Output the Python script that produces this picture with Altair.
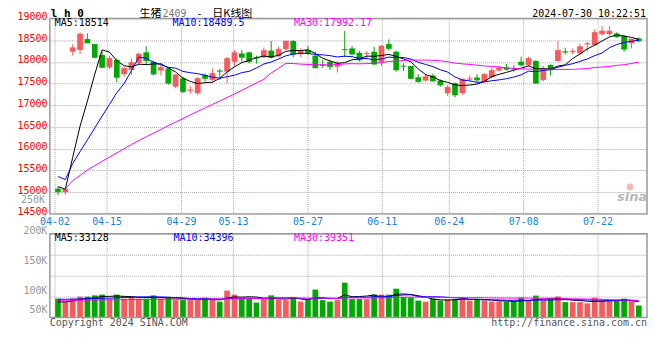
import altair as alt
import pandas as pd

# ---------------- data ----------------
DATES = [
    "04-02", "04-03", "04-08", "04-09", "04-10", "04-11", "04-12", "04-15", "04-16", "04-17",
    "04-18", "04-19", "04-22", "04-23", "04-24", "04-25", "04-26", "04-29", "04-30",
    "05-06", "05-07", "05-08", "05-09", "05-10", "05-13", "05-14", "05-15", "05-16", "05-17",
    "05-20", "05-21", "05-22", "05-23", "05-24", "05-27", "05-28", "05-29", "05-30", "05-31",
    "06-03", "06-04", "06-05", "06-06", "06-07", "06-11", "06-12", "06-13", "06-14", "06-17",
    "06-18", "06-19", "06-20", "06-21", "06-24", "06-25", "06-26", "06-27", "06-28",
    "07-01", "07-02", "07-03", "07-04", "07-05", "07-08", "07-09", "07-10", "07-11", "07-12",
    "07-15", "07-16", "07-17", "07-18", "07-19", "07-22", "07-23", "07-24", "07-25", "07-26",
    "07-29", "07-30",
]
OPEN = [15080, 15000, 18235, 18275, 18525, 18410, 18160, 17875, 18045, 17720,
        17815, 17980, 18220, 18005, 17800, 17850, 17430, 17620, 17340, 17280,
        17700, 17585, 17800, 17775, 18005, 18195, 18220, 18105, 18105, 18260,
        18135, 18295, 18480, 18180, 18275, 18145, 17935, 18005, 17890, 18295,
        18310, 18210, 18180, 18235, 18000, 18410, 18235, 17910, 17905, 17645,
        17570, 17685, 17570, 17280, 17510, 17280, 17595, 17640, 17545, 17645,
        17800, 17875, 17860, 18005, 17930, 18020, 17585, 17930, 18020, 18240,
        18225, 18195, 18405, 18390, 18640, 18640, 18655, 18600, 18425, 18540]
HIGH = [15125, 15085, 18405, 18680, 18655, 18410, 18235, 18145, 18080, 17890,
        18080, 18210, 18365, 18030, 17930, 17875, 17715, 17660, 17445, 17640,
        17735, 17850, 17835, 18120, 18275, 18275, 18235, 18145, 18325, 18480,
        18350, 18480, 18505, 18310, 18365, 18235, 18045, 18020, 18020, 18710,
        18365, 18260, 18250, 18350, 18390, 18520, 18260, 17965, 17905, 17715,
        17715, 17735, 17600, 17470, 17525, 17620, 17685, 17715, 17735, 17865,
        17905, 17950, 17930, 18120, 18120, 18045, 17905, 17945, 18480, 18325,
        18310, 18425, 18465, 18745, 18830, 18825, 18680, 18615, 18540, 18565]
LOW = [14930, 14940, 18145, 18175, 18435, 18080, 17850, 17835, 17530, 17660,
       17700, 17945, 17930, 17685, 17685, 17470, 17395, 17280, 17270, 17240,
       17545, 17545, 17585, 17510, 17890, 18005, 17965, 17965, 18080, 18080,
       18105, 18275, 18105, 18120, 18160, 17850, 17865, 17815, 17755, 18110,
       18160, 18005, 18060, 17930, 17900, 18260, 17775, 17790, 17605, 17525,
       17545, 17545, 17430, 17215, 17180, 17240, 17545, 17530, 17530, 17620,
       17775, 17800, 17775, 17890, 17890, 17490, 17545, 17685, 18005, 18175,
       18175, 18175, 18235, 18370, 18600, 18600, 18555, 18235, 18310, 18450]
CLOSE = [15010, 15070, 18325, 18640, 18435, 18105, 17875, 18080, 17645, 17850,
         17980, 18180, 18030, 17720, 17875, 17510, 17700, 17315, 17355, 17620,
         17620, 17735, 17785, 18080, 18210, 18105, 18005, 18090, 18260, 18105,
         18290, 18480, 18180, 18250, 18195, 17865, 17920, 17890, 17965, 18280,
         18180, 18045, 18195, 17950, 18365, 18310, 17815, 17900, 17620, 17545,
         17660, 17560, 17470, 17415, 17240, 17600, 17610, 17585, 17715, 17800,
         17865, 17830, 17845, 17930, 18080, 17510, 17850, 17815, 18260, 18225,
         18245, 18350, 18420, 18680, 18710, 18710, 18580, 18295, 18525, 18485]
VOLUME = [45200, 37400, 45200, 50000, 50000, 52900, 54800, 45200, 54800, 45200,
          50000, 45200, 45200, 52900, 45200, 47600, 41700, 41700, 41700, 41700,
          47600, 41700, 38100, 64300, 54800, 45200, 45200, 35700, 47600, 52900,
          42900, 41700, 47600, 38100, 41700, 66700, 41700, 38100, 41700, 83300,
          44000, 44000, 44000, 54800, 54800, 54800, 69000, 48800, 47600, 40500,
          38100, 45200, 40500, 44000, 44000, 47600, 40500, 42900, 40500, 38100,
          38100, 38100, 38100, 47600, 40500, 52400, 40500, 44000, 50000, 36900,
          36900, 36900, 34000, 47600, 40500, 38100, 42900, 45200, 38100, 28600]

# moving-average values before a full window exists
MA5_EARLY = [15125, 15070, 15800, 16520]
MA10_EARLY = [15360, 15290, 15660, 15935, 16205, 16480, 16750, 17020, 17290]
MA30_EARLY = [None, 15075, 15265, 15385, 15510, 15610, 15710, 15810, 15905, 16000,
              16100, 16190, 16275, 16360, 16445, 16530, 16615, 16695, 16780, 16860,
              16940, 17020, 17100, 17180, 17260, 17345, 17430, 17515, 17600]
VMA5_EARLY = [37400, 37400, 40000, 43000]
VMA10_EARLY = [43600, 43600, 44000, 44500, 45000, 45500, 46000, 46500, 47000]
VMA30_EARLY = [41200, 41200, 41400, 41500, 41700, 41900, 42100, 42300, 42500, 42700,
               42900, 43000, 43200, 43300, 43500, 43600, 43700, 43800, 43900, 44000,
               44100, 44300, 44400, 44500, 44700, 44800, 45000, 45100, 45200]

PRICE_TICKS = [14500, 15000, 15500, 16000, 16500, 17000, 17500, 18000, 18500, 19000]
VOL_TICKS = [50000, 100000, 150000, 200000]
TICK_DATES = ["04-02", "04-15", "04-29", "05-13", "05-27", "06-11", "06-24", "07-08", "07-22"]

# ---------------- styling ----------------
MONO = "DejaVu Sans Mono"
CJK = "Noto Sans CJK SC"
RED = "#f65a5a"
GREEN = "#00a800"
GRID = "#a8a8a8"
BORDER = "#9a9a9a"
DATE_BLUE = "#1a82d8"
W = 599
H = 300
MAIN_H = 196
VOL_TOP = 216
VOL_BASE = 293
TITLE_Y = -4.3
GRID_STEP = 1.0117   # Sina spaces its date grid slightly wider than the candles
GRID_SHIFT = -0.4


def rolling(values, n, early):
    out = []
    for i in range(len(values)):
        if i >= n - 1:
            out.append(sum(values[i - n + 1:i + 1]) / n)
        else:
            out.append(early[i])
    return out


n = len(DATES)
df = pd.DataFrame({
    "idx": list(range(n)), "date": DATES, "open": OPEN, "high": HIGH,
    "low": LOW, "close": CLOSE, "vol": VOLUME,
})
df["ma5"] = rolling(CLOSE, 5, MA5_EARLY)
df["ma10"] = rolling(CLOSE, 10, MA10_EARLY)
df["ma30"] = rolling(CLOSE, 30, MA30_EARLY)
df["vma5"] = rolling(VOLUME, 5, VMA5_EARLY)
df["vma10"] = rolling(VOLUME, 10, VMA10_EARLY)
df["vma30"] = rolling(VOLUME, 30, VMA30_EARLY)

ticks = pd.DataFrame({
    "label": TICK_DATES,
    "pos": [DATES.index(d) * GRID_STEP + GRID_SHIFT for d in TICK_DATES],
})

x_scale = alt.Scale(domain=[-0.42667, 79.44], nice=False, zero=False)
p_scale = alt.Scale(domain=[12112.245, 19000], nice=False, zero=False)
v_scale = alt.Scale(domain=[0, 714285.7], nice=False, zero=False)

X = alt.X("idx:Q", scale=x_scale, axis=None)
color = alt.condition("datum.close >= datum.open", alt.value(RED), alt.value(GREEN))

base = alt.Chart(df)

price_axis = alt.Axis(
    values=PRICE_TICKS, format="d", grid=True, gridColor=GRID, gridDash=[1, 1], ticks=False,
    domain=False, labelColor="#ff0000", labelFont=MONO, labelFontSize=10,
    labelPadding=3, labelOffset=-2, labelOverlap=False, title=None,
)
vol_axis = alt.Axis(
    orient="left", values=VOL_TICKS, grid=True, gridColor=GRID, gridDash=[1, 1],
    ticks=False, domain=False, labelColor="#999999", labelFont=MONO, labelFontSize=10,
    labelPadding=3, labelOverlap=False, title=None,
    labelExpr="round(datum.value / 1000) + 'K'",
    labelOffset={"condition": [
        {"test": "datum.value == 200000", "value": -3},
        {"test": "datum.value == 150000", "value": 6},
        {"test": "datum.value == 100000", "value": 15},
    ], "value": 13},
)

wicks = base.mark_rule(strokeWidth=1).encode(
    x=X, y=alt.Y("low:Q", scale=p_scale, axis=price_axis), y2="high:Q", color=color)
bodies = base.mark_bar(size=5.7).encode(
    x=X, y=alt.Y("open:Q", scale=p_scale, axis=None), y2="close:Q", color=color)
closes = base.mark_tick(orient="horizontal", size=5.7, thickness=1).encode(
    x=X, y=alt.Y("close:Q", scale=p_scale, axis=None), color=color)


def ma_line(field, col, scale):
    return base.mark_line(strokeWidth=1, color=col).encode(
        x=X, y=alt.Y(f"{field}:Q", scale=scale, axis=None))


vol_bars = base.mark_bar(size=5.7).encode(
    x=X, y=alt.Y("vol:Q", scale=v_scale, axis=vol_axis), y2=alt.value(VOL_BASE), color=color)

tick_base = alt.Chart(ticks)
date_grid_main = tick_base.mark_rule(color=GRID, strokeDash=[1, 1]).encode(
    x=alt.X("pos:Q", scale=x_scale, axis=None), y=alt.value(0), y2=alt.value(MAIN_H))
date_grid_vol = tick_base.mark_rule(color=GRID, strokeDash=[1, 1]).encode(
    x=alt.X("pos:Q", scale=x_scale, axis=None), y=alt.value(VOL_TOP), y2=alt.value(H))
date_labels = tick_base.mark_text(font=MONO, fontSize=10, color=DATE_BLUE, baseline="middle").encode(
    x=alt.X("pos:Q", scale=x_scale, axis=None), y=alt.value(204), text="label:N")

one = pd.DataFrame({"t": [""]})
border_main = alt.Chart(one).mark_rect(filled=False, stroke=BORDER, strokeWidth=1.5).encode(
    x=alt.value(0), x2=alt.value(W), y=alt.value(0), y2=alt.value(MAIN_H))
border_vol = alt.Chart(one).mark_rect(filled=False, stroke=BORDER, strokeWidth=1.5).encode(
    x=alt.value(0), x2=alt.value(W), y=alt.value(VOL_TOP), y2=alt.value(H))


def label(text, x, y, col="#000000", font=MONO, size=10, align="left", **kw):
    return alt.Chart(pd.DataFrame({"t": [text]})).mark_text(
        font=font, fontSize=size, color=col, align=align, baseline="middle", **kw
    ).encode(text="t:N", x=alt.value(x), y=alt.value(y))


texts = [
    label("l h 0", 1, TITLE_Y, size=11, fontWeight="bold"),
    label("生猪", 90, TITLE_Y, font=CJK, size=11),
    label("2409", 113, TITLE_Y, col="#777777"),
    label("-", 150, TITLE_Y, align="center"),
    label("日K线图", 163, TITLE_Y, font=CJK, size=11),
    label("2024-07-30 10:22:51", 598, TITLE_Y, align="right"),
    label("MA5:18514", 5, 5),
    label("MA10:18489.5", 123, 5, col="#0000ff"),
    label("MA30:17992.17", 245, 5, col="#ff00ff"),
    label("MA5:33128", 5, 220.5),
    label("MA10:34396", 124, 220.5, col="#0000ff"),
    label("MA30:39351", 245, 220.5, col="#ff00ff"),
    label("250K", -5, 182, col="#999999", align="right"),
    label("Copyright 2024 SINA.COM", 0, 305, col="#555555"),
    label("http://finance.sina.com.cn", 599, 305, col="#555555", align="right"),
    label("sina", 584, 179, col="#b8b8b8", font="DejaVu Sans", size=13,
          align="center", fontStyle="italic", fontWeight="bold"),
]
eye = alt.Chart(one).mark_point(filled=True, color="#f2a3a3", size=45, opacity=0.8).encode(
    x=alt.value(582), y=alt.value(169))

layers = [
    date_grid_main, date_grid_vol,
    wicks, bodies, closes,
    ma_line("ma5", "#000000", p_scale),
    ma_line("ma10", "#0000ff", p_scale),
    ma_line("ma30", "#ff00ff", p_scale),
    vol_bars,
    ma_line("vma5", "#000000", v_scale),
    ma_line("vma10", "#0000ff", v_scale),
    ma_line("vma30", "#ff00ff", v_scale),
    border_main, border_vol, date_labels, eye,
] + texts

chart = alt.layer(*layers).resolve_scale(y="independent").properties(
    width=W, height=H,
    autosize=alt.AutoSizeParams(type="none"),
    padding={"left": 42, "top": 10, "right": 5, "bottom": 22},
    background="white",
).configure_view(stroke=None)

chart.save("out.html", embed_options={"renderer": "svg", "actions": False})
